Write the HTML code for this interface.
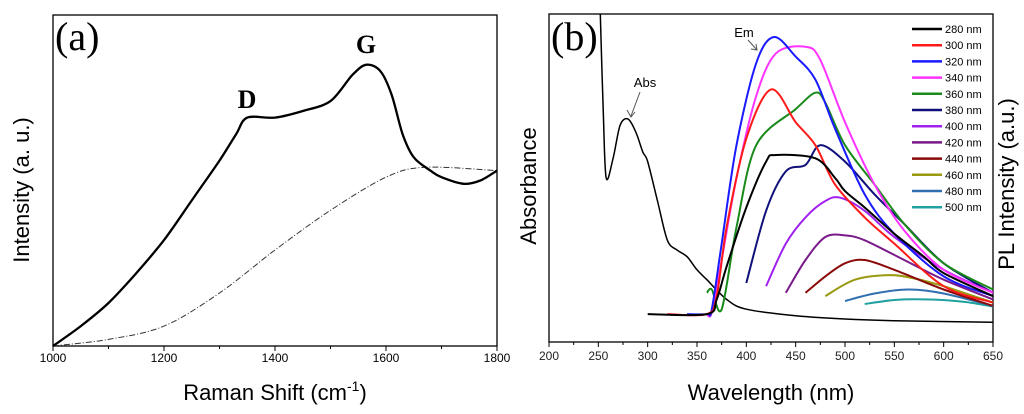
<!DOCTYPE html>
<html><head><meta charset="utf-8"><style>
html,body{margin:0;padding:0;background:#fff}
svg{display:block}
.sans{font-family:"Liberation Sans",sans-serif}
.serif{font-family:"Liberation Serif",serif}
</style></head><body>
<svg id="fig" width="1024" height="414" viewBox="0 0 1024 414"></svg>
<script>
// ---- Panel (a) data ----
const ramanX=[1000,1050,1100,1150,1200,1250,1300,1330,1350,1400,1450,1500,1540,1565,1590,1610,1630,1650,1680,1700,1740,1770,1800];
const ramanY=[0,6,13,22,32,44,56,64,69,69,71,74,82,85,83,76,64,57,53,51,49,50,53];
const baseX=[1000,1100,1200,1300,1400,1500,1600,1670,1800];
const baseY=[0,2,6,16,29,41,51,54,53];
const ramanTicks=[1000,1200,1400,1600,1800];
// ---- Panel (b) data ----
const absX=[252,255,258,265,272,280,288,295,300,310,320,330,340,350,360,380,400,450,500,550,650];
const absY=[100,70,50,56,66,68,64,58,55,43,31,28,26,22,19,13,10,8,7,6.5,6];
const excLabels=["280 nm","300 nm","320 nm","340 nm","360 nm","380 nm","400 nm","420 nm","440 nm","460 nm","480 nm","500 nm"];
const excColors=["#000000","#ff1a1a","#1a1aff","#ff33ff","#1a8a1a","#10107a","#a020f0","#7a1a8a","#8a0a0a","#9a9a10","#3070b0","#20a0a0"];
const emX=[
 [300,360,370,380,400,420,430,470,490,500,520,550,580,600,650],
 [320,360,370,380,400,425,450,470,490,520,550,600,650],
 [340,360,365,375,390,410,428,450,470,490,520,550,600,650],
 [360,365,375,390,410,430,460,475,500,530,560,600,650],
 [360,365,375,390,410,450,470,480,500,530,560,600,650],
 [400,420,440,460,475,500,530,560,600,650],
 [420,440,460,480,495,520,550,600,650],
 [440,460,480,500,520,560,600,650],
 [460,480,500,520,550,600,650],
 [480,510,545,570,600,650],
 [500,530,565,600,650],
 [520,550,580,620,650]];
const emY=[
 [8.5,8.5,13,23,41,55,57,56,50,46,41,33,26,21,14],
 [8.5,8.5,14,35,62,77,67,60,48,38,30,17,12],
 [8.5,8.5,10,30,60,85,93,87,80,65,45,33,20,14],
 [8.5,9,25,50,75,88,90,86,67,48,34,22,15],
 [15,16,10,35,60,71,76,73,60,48,36,24,16],
 [18,40,52,54,60,55,45,36,24,15],
 [17,30,38,43,44,40,32,22,15],
 [15,25,32,32.5,31,25,19,13],
 [15,20,24,25,22,16,11],
 [14,19,20.4,19.4,17,12],
 [12.5,14.8,16,14.8,11],
 [11.6,12.8,13,12.3,10.8]];
const wlTicks=[200,250,300,350,400,450,500,550,600,650];

const NS="http://www.w3.org/2000/svg";
const svg=document.getElementById('fig');
function el(t,a,txt){const e=document.createElementNS(NS,t);for(const k in a)e.setAttribute(k,a[k]);if(txt!==undefined)e.textContent=txt;svg.appendChild(e);return e;}

const A={l:53,r:497,t:15,b:346,x0:1000,x1:1800};
const ax=v=>A.l+(v-A.x0)/(A.x1-A.x0)*(A.r-A.l);
const ay=v=>A.b-v/100*(A.b-A.t);
const B={l:549,r:993,t:14,b:342,x0:200,x1:650};
const bx=v=>B.l+(v-B.x0)/(B.x1-B.x0)*(B.r-B.l);
const by=v=>B.b-v/100*(B.b-B.t);

function path(xs,ys,fx,fy){
  const P=xs.map((x,i)=>[fx(x),fy(Math.min(ys[i],103))]);
  let d='M'+P[0][0].toFixed(1)+','+P[0][1].toFixed(1);
  for(let i=0;i<P.length-1;i++){
    const p0=P[i-1]||P[i],p1=P[i],p2=P[i+1],p3=P[i+2]||P[i+1];
    const t=0.16;
    const c1=[p1[0]+(p2[0]-p0[0])*t,p1[1]+(p2[1]-p0[1])*t];
    const c2=[p2[0]-(p3[0]-p1[0])*t,p2[1]-(p3[1]-p1[1])*t];
    d+=' C'+c1.map(v=>v.toFixed(1)).join(',')+' '+c2.map(v=>v.toFixed(1)).join(',')+' '+p2[0].toFixed(1)+','+p2[1].toFixed(1);
  }
  return d;
}

let f=el('rect',{x:A.l,y:A.t,width:A.r-A.l,height:A.b-A.t,fill:'none',stroke:'#000','stroke-width':1.3});

f=el('rect',{x:B.l,y:B.t,width:B.r-B.l,height:B.b-B.t,fill:'none',stroke:'#000','stroke-width':1.3});


for(let v=1000;v<=1800;v+=100){const x=ax(v);const e=el('line',{x1:x,x2:x,y1:A.b,y2:A.b+(v%200?3:5),stroke:'#000'});}
ramanTicks.forEach(v=>{const e=el('text',{x:ax(v),y:A.b+16,'font-size':12,'text-anchor':'middle',class:'sans'},String(v));});
for(let v=200;v<=650;v+=25){const x=bx(v);const e=el('line',{x1:x,x2:x,y1:B.b,y2:B.b+(v%50?3:5),stroke:'#000'});}
wlTicks.forEach(v=>{const e=el('text',{x:bx(v),y:B.b+18,'font-size':12,'text-anchor':'middle',fill:'#222',class:'sans'},String(v));});

let p=el('path',{d:path(baseX,baseY,ax,ay),fill:'none',stroke:'#333','stroke-width':1,'stroke-dasharray':'6,2,1,2'});

p=el('path',{d:path(ramanX,ramanY,ax,ay),fill:'none',stroke:'#000','stroke-width':2.3,'stroke-linejoin':'round'});


const defs=el('defs',{});const cp=document.createElementNS(NS,'clipPath');cp.setAttribute('id','cb');
const cr=document.createElementNS(NS,'rect');cr.setAttribute('x',B.l);cr.setAttribute('y',B.t);cr.setAttribute('width',B.r-B.l);cr.setAttribute('height',B.b-B.t);cp.appendChild(cr);defs.appendChild(cp);
p=el('path',{d:path(absX,absY,bx,by),fill:'none',stroke:'#000','stroke-width':1.5,'clip-path':'url(#cb)'});

for(let i=emX.length-1;i>=0;i--){
  const e=el('path',{d:path(emX[i],emY[i],bx,by),fill:'none',stroke:excColors[i],'stroke-width':2,'stroke-linejoin':'round'});
  
  
}
excLabels.forEach((lab,i)=>{const y=29+i*16.2;
  const l=el('line',{x1:912,x2:942,y1:y,y2:y,stroke:excColors[i],'stroke-width':2.5});
  
  const t=el('text',{x:945,y:y+4,'font-size':11,class:'sans'},lab);
  });

function txt(name,attrs,s){if(!attrs.class)attrs.class='sans';const t=el('text',attrs,s);return t;}
txt('panel-label-a',{x:55,y:50,'font-size':40,class:'serif'},'(a)');
txt('panel-label-b',{x:551,y:50,'font-size':40,class:'serif'},'(b)');
txt('peak-label-d',{x:247,y:108,'font-size':26,'font-weight':'bold',class:'serif','text-anchor':'middle'},'D');
txt('peak-label-g',{x:366,y:53,'font-size':26,'font-weight':'bold',class:'serif','text-anchor':'middle'},'G');
const sa=txt('x-axis-title-a',{x:275,y:400,'font-size':22,'text-anchor':'middle'},'Raman Shift (cm');
const sup=document.createElementNS(NS,'tspan');sup.setAttribute('dy','-9');sup.setAttribute('font-size','14');sup.textContent='-1';sa.appendChild(sup);
const cl=document.createElementNS(NS,'tspan');cl.setAttribute('dy','9');cl.textContent=')';sa.appendChild(cl);
txt('y-axis-title-a',{x:0,y:0,'font-size':22,'text-anchor':'middle',transform:'translate(29,190) rotate(-90)'},'Intensity (a. u.)');
txt('x-axis-title-b',{x:771,y:400,'font-size':22,'text-anchor':'middle'},'Wavelength (nm)');
txt('y-axis-title-left-b',{x:0,y:0,'font-size':22,'text-anchor':'middle',transform:'translate(536,186) rotate(-90)'},'Absorbance');
txt('y-axis-title-right-b',{x:0,y:0,'font-size':22,'text-anchor':'middle',transform:'translate(1014,184) rotate(-90)'},'PL Intensity (a.u.)');
txt('abs-annotation',{x:645,y:87,'font-size':13,'text-anchor':'middle'},'Abs');
txt('em-annotation',{x:744,y:37,'font-size':13,'text-anchor':'middle'},'Em');
let ar=el('path',{d:'M640,92 L631,116 M627,110 L631,117 L635,112',fill:'none',stroke:'#555','stroke-width':1});

ar=el('path',{d:'M748,40 L757,50 M751,49 L757,50 L756,44',fill:'none',stroke:'#555','stroke-width':1});

</script>
</body></html>
